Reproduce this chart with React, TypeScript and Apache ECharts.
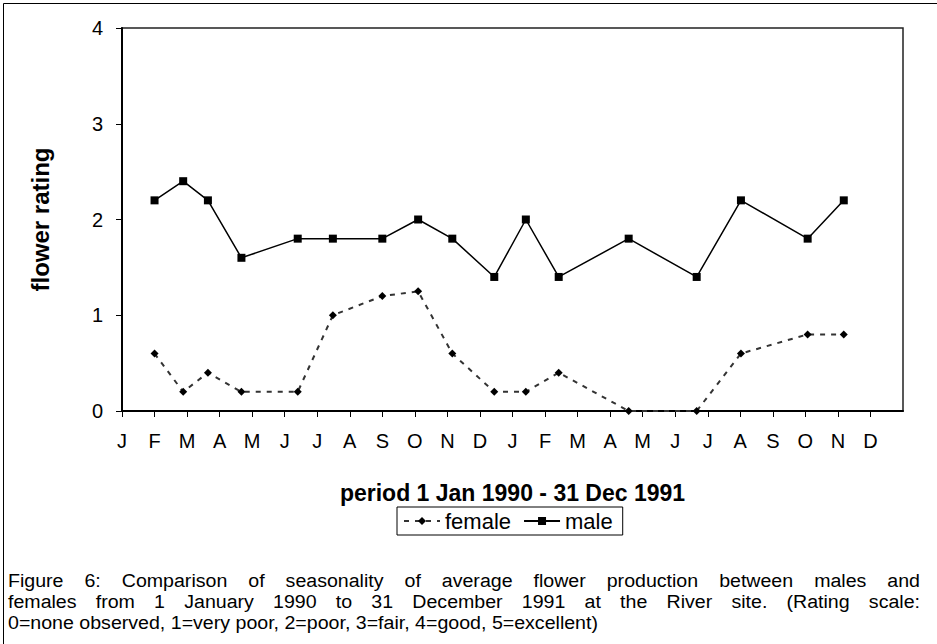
import React, { useEffect, useRef } from "react";
import * as echarts from "echarts";

const monthLabels = ["J", "F", "M", "A", "M", "J", "J", "A", "S", "O", "N", "D", "J", "F", "M", "A", "M", "J", "J", "A", "S", "O", "N", "D"];
// sampling time, in months since 1 Jan 1990
const sampleMonth = [1.0, 1.88, 2.64, 3.67, 5.4, 6.48, 8.0, 9.1, 10.15, 11.44, 12.41, 13.42, 15.57, 17.66, 19.02, 21.07, 22.18];
const femaleRating = [0.6, 0.2, 0.4, 0.2, 0.2, 1.0, 1.2, 1.25, 0.6, 0.2, 0.2, 0.4, 0.0, 0.0, 0.6, 0.8, 0.8];
const maleRating = [2.2, 2.4, 2.2, 1.6, 1.8, 1.8, 1.8, 2.0, 1.8, 1.4, 2.0, 1.4, 1.8, 1.4, 2.2, 1.8, 2.2];
const seriesNames = ["female", "male"];
const xTitle = "period 1 Jan 1990 - 31 Dec 1991";
const yTitle = "flower rating";
const captionLines = [
  "Figure 6: Comparison of seasonality of average flower production between males and",
  "females from 1 January 1990 to 31 December 1991 at the River site. (Rating scale:",
  "0=none observed, 1=very poor, 2=poor, 3=fair, 4=good, 5=excellent)",
];

const FONT = '"Liberation Sans", Arial, sans-serif';

function buildCaption(): any[] {
  const fontSize = 19;
  const canvas = document.createElement("canvas");
  const ctx = canvas.getContext("2d")!;
  ctx.font = `${fontSize}px ${FONT}`;
  const lastW = ctx.measureText(captionLines[2]).width;
  const s = 590 / lastW;
  const left = 8;
  const right = 920;
  const ys = [581, 602, 623];
  const els: any[] = [];
  captionLines.forEach((line, li) => {
    const words = line.split(" ");
    const widths = words.map((w) => ctx.measureText(w).width * s);
    const total = widths.reduce((a, b) => a + b, 0);
    const justify = li < captionLines.length - 1;
    const gap = justify ? (right - left - total) / (words.length - 1) : ctx.measureText(" ").width * s;
    let x = left;
    words.forEach((w, wi) => {
      els.push({
        type: "text",
        x,
        y: ys[li],
        scaleX: s,
        silent: true,
        style: { text: w, fill: "#000", font: `${fontSize}px ${FONT}`, textAlign: "left", textVerticalAlign: "middle" },
      });
      x += widths[wi] + gap;
    });
  });
  return els;
}

export default function App() {
  const ref = useRef<HTMLDivElement>(null);
  useEffect(() => {
    const chart = echarts.init(ref.current!, null, { renderer: "svg" });
    const tickIdx = monthLabels.map((_, i) => i);
    chart.setOption({
      animation: false,
      backgroundColor: "#fff",
      textStyle: { fontFamily: FONT },
      grid: { left: 122, right: 34, top: 28, bottom: 233, show: true, borderColor: "#222", borderWidth: 1.5, backgroundColor: "transparent" },
      legend: {
        left: 397,
        top: 507,
        orient: "horizontal",
        borderColor: "#000",
        borderWidth: 1,
        padding: [3, 10, 3, 6],
        itemWidth: 36,
        itemHeight: 10,
        itemGap: 12,
        textStyle: { fontSize: 22, color: "#000", fontFamily: FONT },
        data: seriesNames,
      },
      xAxis: {
        type: "value",
        min: 0,
        max: 24,
        interval: 1,
        name: xTitle,
        nameLocation: "middle",
        nameGap: 70,
        nameTextStyle: { fontSize: 23, fontWeight: "bold", color: "#000", fontFamily: FONT },
        axisLine: { show: true, onZero: false, lineStyle: { color: "#000", width: 2 } },
        axisTick: { show: true, length: 6, customValues: tickIdx, lineStyle: { color: "#000", width: 1 } },
        axisLabel: { customValues: tickIdx, formatter: (v: number) => monthLabels[v] ?? "", margin: 20, fontSize: 20, color: "#000", fontFamily: FONT },
        splitLine: { show: false },
      },
      yAxis: {
        type: "value",
        min: 0,
        max: 4,
        interval: 1,
        name: yTitle,
        nameLocation: "middle",
        nameGap: 70,
        nameTextStyle: { fontSize: 24, fontWeight: "bold", color: "#000", fontFamily: FONT },
        axisLine: { show: true, lineStyle: { color: "#000", width: 2 } },
        axisTick: { show: true, length: 6, lineStyle: { color: "#000", width: 1 } },
        axisLabel: { margin: 19, fontSize: 20, color: "#000", fontFamily: FONT },
        splitLine: { show: false },
      },
      series: [
        {
          name: seriesNames[0],
          type: "line",
          data: sampleMonth.map((m, i) => [m, femaleRating[i]]),
          symbol: "diamond",
          symbolSize: 8,
          lineStyle: { color: "#333", width: 2, type: [5, 6] },
          itemStyle: { color: "#000" },
          z: 3,
        },
        {
          name: seriesNames[1],
          type: "line",
          data: sampleMonth.map((m, i) => [m, maleRating[i]]),
          symbol: "rect",
          symbolSize: 8,
          lineStyle: { color: "#000", width: 1.5 },
          itemStyle: { color: "#000" },
          z: 4,
        },
      ],
      graphic: [
        {
          type: "polyline",
          silent: true,
          shape: { points: [[3.5, 660], [3.5, 3.5], [940, 3.5]] },
          style: { stroke: "#000", lineWidth: 1, fill: "none" },
        },
        ...buildCaption(),
      ],
    });
    return () => chart.dispose();
  }, []);
  return <div ref={ref} style={{ position: "fixed", left: 0, top: 0, width: 937, height: 644 }} />;
}
